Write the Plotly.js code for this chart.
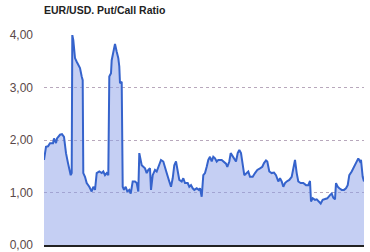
<!DOCTYPE html>
<html>
<head>
<meta charset="utf-8">
<script src="https://cdn.plot.ly/plotly-3.0.1.min.js"></script>
<style>html,body{margin:0;padding:0;background:#fff;}#chart{width:370px;height:252px;}</style>
</head>
<body>
<div id="chart"></div>
<script>
// day index along the period
var days = [0,2,4,6,9,10,12,13,16,18,20,22,24,26.7,27.7,28.3,29.3,31,32.7,34.3,36,37.7,38.7,39.3,41,42.7,45.3,47.7,49.3,51,52.7,55.3,57.7,59.3,61,62.7,64.3,65.3,67,67.7,69.3,71,72.7,74.3,75.3,76,77.7,78.7,80,81.7,83.3,85.3,86.7,88.7,91,92.7,94.3,95.3,97.7,101,102.7,104.3,106,107,108.7,111,112.7,114.3,117,119.3,121,122.7,125.3,127,128.7,130.3,132,133.3,135.3,137.7,139.3,141,143.7,145.3,147,148.7,150.3,152.7,154.7,156,157.7,159.3,161,162.7,164.3,166,167.7,169.3,171,172.7,174.3,177.7,180,182,183.3,185.3,186.7,188.7,190.3,192,193.7,195.3,197,198.7,200.3,202.7,204.3,206,208.7,211,213.3,216,218.3,220,222,223.3,225.3,227.7,230,232,234.3,236,237.7,239.3,241,242.7,245.3,247.7,249.3,251,252.7,254.3,256.7,259.3,262,264.3,266,267,268.7,271,272.7,274.3,276.7,278.7,281,283.3,286,287.7,289.3,291,292,293.7,295.3,297.7,300,302,303.7,305.3,307.7,309.3,311,312.7,314.3,316,317,318.7,320];
var ratio = [1.62,1.87,1.88,1.94,1.94,2.03,1.94,2.03,2.10,2.11,2.06,1.75,1.56,1.33,1.37,4.00,3.90,3.56,3.49,3.43,3.37,3.21,3.14,1.37,1.30,1.18,1.11,1.02,1.11,1.05,1.37,1.40,1.37,1.40,1.33,1.37,1.33,3.21,3.27,3.52,3.71,3.83,3.68,3.56,3.40,3.08,3.11,1.11,1.05,1.11,1.02,1.05,0.98,1.21,1.21,1.18,1.02,1.75,1.52,1.46,1.37,1.43,1.46,1.05,1.33,1.43,1.40,1.49,1.62,1.59,1.46,1.37,1.21,1.11,1.27,1.52,1.59,1.43,1.24,1.21,1.27,1.18,1.18,1.11,1.14,1.08,1.05,1.08,1.05,1.08,0.92,1.33,1.37,1.49,1.62,1.68,1.59,1.68,1.65,1.59,1.62,1.62,1.59,1.55,1.49,1.59,1.75,1.68,1.65,1.59,1.75,1.81,1.75,1.55,1.33,1.37,1.40,1.30,1.30,1.37,1.43,1.46,1.49,1.56,1.61,1.59,1.40,1.37,1.38,1.33,1.21,1.27,1.21,1.11,1.18,1.21,1.24,1.30,1.43,1.62,1.37,1.21,1.18,1.18,1.14,1.14,1.22,0.83,0.89,0.86,0.87,0.83,0.79,0.86,0.87,0.89,0.95,0.98,0.90,0.87,1.18,1.11,1.08,1.05,1.05,1.08,1.14,1.33,1.40,1.46,1.52,1.59,1.65,1.59,1.62,1.30,1.21];
var yTicks = [0,1,2,3,4];
var chartTitle = 'EUR/USD. Put/Call Ratio';

var trace = {
  x: days, y: ratio, type: 'scatter', mode: 'lines',
  line: {color: '#3563cc', width: 2},
  fill: 'tozeroy', fillcolor: 'rgba(140,160,232,0.5)',
  cliponaxis: false, hoverinfo: 'skip'
};
var layout = {
  width: 370, height: 252,
  margin: {l: 44, r: 6, t: 35, b: 7, pad: 0},
  paper_bgcolor: '#fff', plot_bgcolor: '#fff',
  separators: ',.',
  showlegend: false,
  title: {text: chartTitle, x: 44/370, xref: 'container', xanchor: 'left',
          y: 1 - 10/252, yref: 'container', yanchor: 'middle',
          font: {family: 'Liberation Sans, Arial, sans-serif', size: 10.5, color: '#222', weight: 'bold'}},
  xaxis: {range: [0, 320], showgrid: false, zeroline: false, showticklabels: false,
          showline: true, linecolor: '#222', linewidth: 2, ticks: ''},
  yaxis: {range: [0, 4], tickvals: yTicks, tickformat: '.2f', showline: false, zeroline: false,
          gridcolor: '#b8a8bc', griddash: 'dot', gridwidth: 1, ticks: '', ticklabelstandoff: 10,
          ticklabeloverflow: 'allow',
          tickfont: {family: 'Liberation Sans, Arial, sans-serif', size: 12, color: '#5a4848'}}
};
Plotly.newPlot('chart', [trace], layout, {staticPlot: true, displayModeBar: false});
</script>
</body>
</html>
